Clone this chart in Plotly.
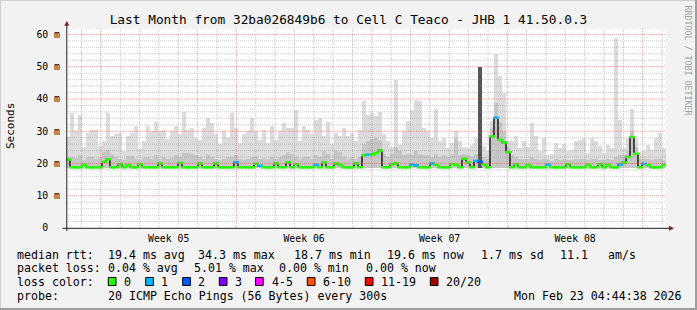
import plotly.graph_objects as go
import pandas as pd

# ---------------- data ----------------
END = pd.Timestamp("2026-02-23 04:44:38")
START = END - pd.Timedelta(days=31)
N_BINS = 150

median_ms = [
    21.2, 18.8, 18.8, 18.8, 19.6, 18.8, 18.8, 18.8, 18.8, 20.5,
    21.3, 18.8, 18.8, 19.8, 18.8, 19.5, 18.8, 18.8, 19.8, 18.8,
    18.8, 18.8, 18.8, 20.0, 18.8, 18.8, 18.8, 18.8, 20.2, 18.8,
    18.8, 18.8, 18.8, 20.0, 18.8, 18.8, 18.8, 20.0, 18.8, 18.8,
    18.8, 18.8, 20.4, 18.8, 18.8, 18.8, 18.8, 19.9, 19.3, 18.8,
    18.8, 18.8, 20.0, 18.8, 18.8, 20.4, 18.8, 19.8, 18.8, 18.8,
    18.8, 18.8, 19.6, 18.8, 20.3, 18.8, 18.8, 20.0, 19.6, 18.8,
    18.8, 18.8, 20.0, 18.8, 22.6, 22.7, 22.8, 23.2, 24.0, 18.8,
    18.8, 19.8, 20.0, 18.8, 18.8, 18.8, 19.6, 19.4, 18.8, 18.8,
    18.8, 20.0, 19.6, 18.8, 18.8, 18.8, 19.8, 19.6, 18.8, 21.5,
    20.3, 18.8, 20.8, 20.5, 19.6, 18.8, 28.4, 34.2, 27.3, 26.5,
    23.5, 18.8, 19.8, 18.8, 18.8, 19.5, 18.8, 18.8, 18.8, 18.8,
    19.6, 18.8, 18.8, 18.8, 18.8, 19.8, 18.8, 18.8, 18.8, 18.8,
    19.6, 18.8, 18.8, 19.8, 18.8, 19.6, 18.8, 18.8, 19.7, 20.3,
    22.0, 28.2, 23.0, 18.8, 19.9, 19.5, 18.8, 18.8, 18.8, 19.6,
]

loss_count = [
    0, 0, 0, 0, 0, 0, 0, 0, 0, 0,
    0, 0, 0, 0, 0, 0, 0, 0, 0, 0,
    0, 0, 0, 0, 0, 0, 0, 0, 0, 0,
    0, 0, 0, 0, 0, 0, 0, 0, 0, 0,
    0, 0, 1, 0, 0, 0, 0, 0, 1, 0,
    0, 0, 0, 0, 0, 0, 0, 0, 0, 0,
    0, 0, 1, 0, 0, 0, 0, 0, 0, 0,
    0, 0, 0, 0, 0, 1, 0, 0, 0, 0,
    0, 0, 0, 0, 0, 0, 1, 1, 0, 0,
    0, 1, 0, 0, 0, 0, 0, 0, 0, 0,
    0, 0, 1, 2, 0, 0, 0, 1, 0, 0,
    0, 0, 0, 0, 0, 0, 0, 0, 0, 0,
    1, 0, 0, 0, 0, 0, 0, 0, 0, 0,
    0, 0, 0, 0, 0, 0, 0, 0, 1, 0,
    0, 0, 0, 0, 1, 0, 0, 0, 0, 0,
]

smoke_max_ms = [
    28.2, 35.5, 30.0, 35.0, 25.0, 29.5, 30.5, 30.5, 25.5, 27.0,
    35.7, 28.5, 29.0, 29.5, 24.0, 28.4, 29.5, 31.5, 24.5, 27.0,
    31.5, 30.2, 33.0, 30.0, 30.5, 27.6, 30.0, 31.5, 29.0, 36.0,
    30.5, 31.0, 28.0, 27.4, 31.0, 34.0, 32.5, 29.0, 26.0, 30.0,
    28.0, 35.7, 31.0, 26.5, 29.0, 30.0, 34.0, 30.0, 27.4, 30.5,
    26.4, 31.5, 27.4, 30.0, 32.5, 31.0, 31.0, 36.6, 26.9, 31.5,
    30.5, 29.0, 33.6, 34.2, 28.4, 33.0, 26.0, 29.5, 28.4, 31.0,
    28.4, 29.5, 26.9, 30.5, 39.3, 35.0, 35.8, 34.6, 36.0, 29.0,
    26.9, 25.0, 46.0, 25.8, 30.0, 33.1, 36.5, 39.8, 39.3, 31.0,
    30.0, 27.9, 37.0, 26.9, 27.9, 24.8, 26.4, 30.0, 26.9, 25.0,
    24.8, 25.8, 27.9, 26.4, 25.3, 23.8, 33.1, 54.0, 47.2, 42.0,
    26.9, 26.9, 28.4, 24.8, 27.0, 25.0, 32.5, 28.4, 24.0, 27.9,
    22.7, 23.0, 26.4, 24.8, 26.0, 23.8, 24.3, 26.9, 27.4, 27.9,
    23.3, 27.9, 27.0, 25.5, 23.3, 25.8, 24.8, 59.0, 33.6, 24.8,
    27.9, 37.0, 27.9, 23.5, 24.0, 25.8, 24.3, 27.9, 29.5, 24.8,
]

smoke_mid_ms = [
    21.5, 22.0, 21.8, 22.5, 21.0, 22.0, 22.0, 21.5, 22.0, 23.5,
    24.3, 23.0, 22.0, 21.5, 21.0, 22.3, 22.3, 21.5, 21.0, 21.8,
    22.0, 21.5, 22.5, 21.5, 22.0, 21.5, 21.8, 22.5, 22.0, 23.3,
    23.3, 23.0, 22.5, 22.0, 21.5, 22.5, 22.0, 21.5, 21.0, 21.5,
    22.0, 22.0, 22.5, 21.5, 21.0, 21.5, 22.0, 22.0, 21.5, 21.8,
    21.5, 22.0, 21.5, 22.0, 22.5, 23.5, 23.0, 22.0, 21.5, 22.0,
    22.0, 21.5, 22.5, 22.0, 24.0, 23.0, 21.5, 24.0, 23.5, 22.0,
    21.5, 22.0, 21.5, 22.0, 26.0, 27.0, 27.5, 28.0, 27.4, 23.0,
    22.0, 23.0, 25.0, 23.8, 22.5, 23.0, 22.5, 24.0, 23.0, 22.5,
    22.5, 22.0, 23.0, 22.0, 22.5, 22.0, 23.0, 27.9, 22.5, 23.0,
    22.5, 22.0, 23.0, 50.0, 22.0, 21.5, 31.0, 38.8, 33.0, 30.0,
    25.0, 22.5, 22.0, 21.5, 21.5, 21.5, 22.0, 21.5, 21.0, 21.5,
    21.0, 20.8, 21.5, 21.0, 21.5, 21.0, 21.0, 21.5, 21.5, 21.5,
    21.0, 21.5, 21.5, 21.0, 21.0, 21.5, 21.0, 22.0, 22.5, 22.5,
    24.0, 30.0, 25.0, 21.5, 21.5, 21.5, 21.0, 21.5, 21.5, 21.0,
]
SMOKE_FLOOR_MS = 18.6

y_tick_vals = [0, 10, 20, 30, 40, 50, 60]
y_tick_text = ["0\u00a0\u00a0", "10 m", "20 m", "30 m", "40 m", "50 m", "60 m"]
week_starts = ["2026-01-25", "2026-02-01", "2026-02-08", "2026-02-15", "2026-02-22"]
week_labels = ["Week 05", "Week 06", "Week 07", "Week 08"]

title_text = "Last Month from 32ba026849b6 to Cell C Teaco - JHB 1 41.50.0.3"
loss_legend_labels = ["0", "1", "2", "3", "4-5", "6-10", "11-19", "20/20"]
loss_legend_colors = ["#26ff00", "#00b8ff", "#0059ff", "#7e00ff",
                      "#ff00ff", "#ff5500", "#ff0000", "#a00000"]
line1 = [("median rtt:", 16), ("19.4 ms avg", 107.3), ("34.3 ms max", 197.3),
         ("18.7 ms min", 293.3), ("19.6 ms now", 386.3), ("1.7 ms sd", 479.7),
         ("11.1", 558.7), ("am/s", 607)]
line2 = [("packet loss:", 16), ("0.04 % avg", 107.3), ("5.01 % max", 193.3),
         ("0.00 % min", 278.3), ("0.00 % now", 365.3)]
line3_head = [("loss color:", 16)]
line3_box_x = [108.3, 145.7, 182.7, 219.3, 255.5, 307.3, 365.3, 430.3]
line3_lbl_x = [123.3, 160, 196.7, 234, 270.7, 321.7, 380.3, 445.3]
line4 = [("probe:", 16), ("20 ICMP Echo Pings (56 Bytes) every 300s", 107.3),
         ("Mon Feb 23 04:44:38 2026", 513)]

# ---------------- geometry ----------------
W, H = 697, 310
ML, MR, MT, MB = 66, 31, 28, 82
PW, PH = W - ML - MR, H - MT - MB
FONT = "DejaVu Sans Mono"


def px(x):
    return (x - ML) / PW


def py(y):
    return (H - MB - y) / PH


step = (END - START) / N_BINS
bin_start = [START + step * i for i in range(N_BINS)]
bin_mid = [t + step / 2 for t in bin_start]
step_ms = step.total_seconds() * 1000


def loss_color(n):
    if n <= 3:
        return loss_legend_colors[n]
    if n <= 5:
        return loss_legend_colors[4]
    if n <= 10:
        return loss_legend_colors[5]
    if n <= 19:
        return loss_legend_colors[6]
    return loss_legend_colors[7]


fig = go.Figure()

fig.add_trace(go.Bar(
    x=bin_mid, y=[v - SMOKE_FLOOR_MS for v in smoke_max_ms], base=SMOKE_FLOOR_MS,
    width=step_ms, marker=dict(color="#dcdcdc", line=dict(width=0)),
    hoverinfo="skip", showlegend=False))
fig.add_trace(go.Bar(
    x=bin_mid, y=[v - SMOKE_FLOOR_MS for v in smoke_mid_ms], base=SMOKE_FLOOR_MS,
    width=step_ms,
    marker=dict(color=["#555555" if v >= 45 else "#c6c6c6" for v in smoke_mid_ms],
                line=dict(width=0)),
    hoverinfo="skip", showlegend=False))
fig.add_trace(go.Scatter(
    x=bin_start + [END], y=median_ms + [median_ms[-1]], mode="lines",
    line=dict(color="#1a1a1a", width=1.5, shape="hv"),
    hoverinfo="skip", showlegend=False))
fig.add_trace(go.Scatter(
    x=bin_mid, y=median_ms, mode="markers",
    marker=dict(symbol="line-ew", size=4.3,
                line=dict(color=[loss_color(n) for n in loss_count], width=2.5)),
    hoverinfo="skip", showlegend=False))

shapes = []
GRID = "rgba(143,143,143,0.45)"
MGRID = "rgba(222,79,79,0.5)"
DASH = "1px,1px"
for v in range(2, 63, 2):
    shapes.append(dict(type="line", xref="paper", yref="y", x0=0, x1=1, y0=v, y1=v,
                       line=dict(color=MGRID if v % 10 == 0 else GRID, width=1, dash=DASH),
                       layer="above"))
day = START.normalize() + pd.Timedelta(days=1)
week_set = set(pd.Timestamp(w) for w in week_starts)
while day < END:
    shapes.append(dict(type="line", xref="x", yref="paper", x0=day, x1=day, y0=0, y1=1,
                       line=dict(color=MGRID if day in week_set else GRID, width=1, dash=DASH),
                       layer="above"))
    day += pd.Timedelta(days=1)

# axes
AX = "#1f1f1f"
ARROW = "#801f1f"
shapes.append(dict(type="line", xref="paper", yref="paper", x0=px(62.5), x1=px(669),
                   y0=py(228.3), y1=py(228.3), line=dict(color=AX, width=1), layer="above"))
shapes.append(dict(type="line", xref="paper", yref="paper", x0=px(66.8), x1=px(66.8),
                   y0=py(231), y1=py(25), line=dict(color=AX, width=1), layer="above"))
shapes.append(dict(type="path", xref="paper", yref="paper",
                   path=f"M {px(64.3)} {py(25.8)} L {px(69.3)} {py(25.8)} L {px(66.8)} {py(21)} Z",
                   fillcolor=ARROW, line=dict(width=0), layer="above"))
shapes.append(dict(type="path", xref="paper", yref="paper",
                   path=f"M {px(669)} {py(225.8)} L {px(669)} {py(230.8)} L {px(674)} {py(228.3)} Z",
                   fillcolor=ARROW, line=dict(width=0), layer="above"))

# frame
shapes.append(dict(type="line", xref="paper", yref="paper", x0=px(0), x1=px(W), y0=py(0.5), y1=py(0.5),
                   line=dict(color="#cfcfcf", width=1)))
shapes.append(dict(type="line", xref="paper", yref="paper", x0=px(0.5), x1=px(0.5), y0=py(0), y1=py(H),
                   line=dict(color="#cfcfcf", width=1)))
shapes.append(dict(type="line", xref="paper", yref="paper", x0=px(0), x1=px(W), y0=py(H - 1), y1=py(H - 1),
                   line=dict(color="#9e9e9e", width=2)))
shapes.append(dict(type="line", xref="paper", yref="paper", x0=px(W - 1), x1=px(W - 1), y0=py(0), y1=py(H),
                   line=dict(color="#9e9e9e", width=2)))

# legend boxes
for bx, col in zip(line3_box_x, loss_legend_colors):
    shapes.append(dict(type="rect", xref="paper", yref="paper",
                       x0=px(bx), x1=px(bx + 7.7), y0=py(277.5), y1=py(285.5),
                       fillcolor=col, line=dict(color="#000000", width=1)))

annotations = []
LFS = 11.6


def add_text(txt, x, y, size=LFS, color="#000000"):
    annotations.append(dict(text=txt, xref="paper", yref="paper", x=px(x), y=py(y),
                            xanchor="left", yanchor="middle", showarrow=False,
                            borderpad=0, font=dict(family=FONT, size=size, color=color)))


for t, x in line1:
    add_text(t, x, 254.5)
for t, x in line2:
    add_text(t, x, 268.3)
for t, x in line3_head:
    add_text(t, x, 281.8)
for t, x in zip(loss_legend_labels, line3_lbl_x):
    add_text(t, x, 281.8)
for t, x in line4:
    add_text(t, x, 296)

annotations.append(dict(text="Seconds", xref="paper", yref="paper", x=px(10), y=py(126),
                        xanchor="center", yanchor="middle", textangle=-90, showarrow=False,
                        font=dict(family=FONT, size=11, color="#000000")))
annotations.append(dict(text="RRDTOOL / TOBI OETIKER", xref="paper", yref="paper",
                        x=px(687.5), y=py(60), xanchor="center", yanchor="middle",
                        textangle=90, showarrow=False,
                        font=dict(family=FONT, size=8.3, color="#a0a0a0")))

week_centers = [pd.Timestamp(w) + pd.Timedelta(hours=84) for w in week_starts[:-1]]

fig.update_layout(
    width=W, height=H,
    margin=dict(l=ML, r=MR, t=MT, b=MB, pad=0),
    paper_bgcolor="#f2f2f2", plot_bgcolor="#ffffff",
    barmode="overlay", bargap=0,
    title=dict(text=title_text, x=0.5, xanchor="center", xref="container",
               y=1 - 19.3 / H, yanchor="middle", yref="container",
               font=dict(family=FONT, size=12.8, color="#000000")),
    xaxis=dict(type="date", range=[START, END], tickvals=week_centers, ticktext=week_labels,
               showgrid=False, zeroline=False, showline=False, ticks="",
               ticklabelstandoff=3, tickfont=dict(family=FONT, size=9.8, color="#000000")),
    yaxis=dict(range=[0, 62], tickvals=y_tick_vals, ticktext=y_tick_text,
               showgrid=False, zeroline=False, showline=False, ticks="",
               ticklabelstandoff=5, tickfont=dict(family=FONT, size=9.8, color="#000000")),
    shapes=shapes, annotations=annotations, showlegend=False,
)

fig.write_html("out.html", config={"displayModeBar": False})
